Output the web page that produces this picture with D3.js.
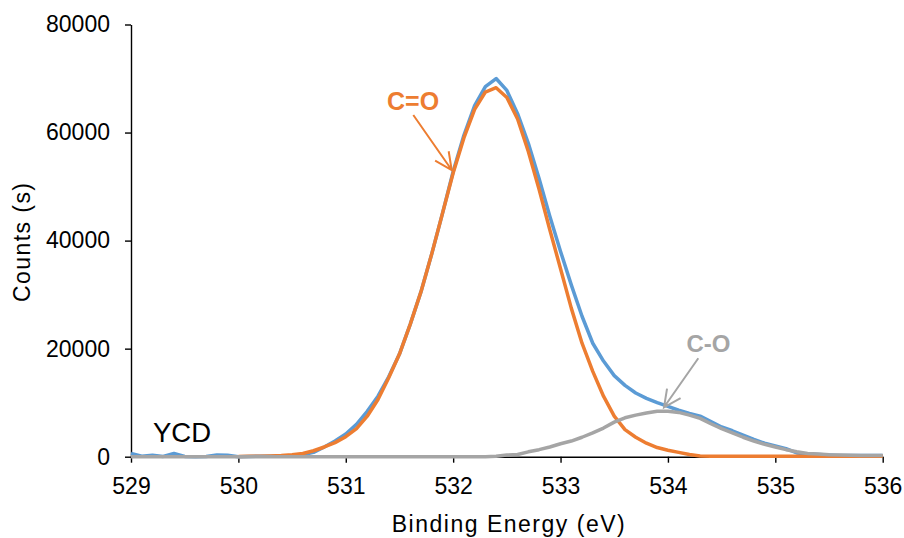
<!DOCTYPE html>
<html>
<head>
<meta charset="utf-8">
<script src="https://cdn.jsdelivr.net/npm/d3@7"></script>
<style>
  html, body { margin: 0; padding: 0; background: #fff; }
  svg { display: block; font-family: "Liberation Sans", Arial, sans-serif; }
</style>
</head>
<body>
<svg id="chart" width="904" height="538"></svg>
<script>
// ---- data ----
const energy = [
  529.0,529.1,529.2,529.3,529.4,529.5,529.6,529.7,529.8,529.9,
  530.0,530.1,530.2,530.3,530.4,530.5,530.6,530.7,530.8,530.9,
  531.0,531.1,531.2,531.3,531.4,531.5,531.6,531.7,531.8,531.9,
  532.0,532.1,532.2,532.3,532.4,532.5,532.6,532.7,532.8,532.9,
  533.0,533.1,533.2,533.3,533.4,533.5,533.6,533.7,533.8,533.9,
  534.0,534.1,534.2,534.3,534.4,534.5,534.6,534.7,534.8,534.9,
  535.0,535.1,535.2,535.3,535.4,535.5,535.6,535.7,535.8,535.9,
  536.0
];
const totalCounts = [
  600,100,250,50,600,50,0,50,300,250,
  0,50,100,100,150,200,350,800,1800,2900,
  4200,6000,8400,11200,14800,19000,24500,30500,37500,45000,
  52800,59500,65000,68500,70000,67800,63500,58000,51500,44500,
  38000,31800,26000,21000,17700,15000,13200,11800,10800,10000,
  9300,8600,8000,7500,6500,5500,4800,4000,3200,2500,
  2000,1500,700,500,400,300,200,200,200,200,
  200
];
const coDoubleCounts = [
  null,null,null,null,null,null,null,null,null,null,
  50,80,100,150,200,350,600,1100,1800,2600,
  3700,5200,7500,10600,14600,19000,24500,30500,37500,45000,
  52500,59000,64300,67500,68300,66500,62500,56500,49500,42000,
  34800,27500,21000,15800,11200,7500,5000,3600,2500,1700,
  1200,800,400,150,100,100,100,100,100,100,
  100,100,100,100,100,100,100,100,100,100,
  100
];
const coSingleCounts = [
  0,0,0,0,0,0,0,0,0,0,
  0,0,0,0,0,0,0,0,0,0,
  0,0,0,0,0,0,0,0,0,0,
  0,0,0,0,100,300,400,900,1300,1800,
  2400,2900,3600,4400,5300,6400,7200,7700,8100,8400,
  8400,8200,7700,7100,6100,5200,4400,3600,2900,2300,
  1800,1300,900,600,500,350,300,250,200,200,
  200
];
const xTicks = [529,530,531,532,533,534,535,536];
const yTicks = [0,20000,40000,60000,80000];
const seriesNames = ["Total","C=O","C-O"];
const seriesColors = ["#5B9BD5","#ED7D31","#A5A5A5"];

// ---- chart ----
const svg = d3.select("#chart");
const x = d3.scaleLinear().domain([529,536]).range([131,882.7]);
const y = d3.scaleLinear().domain([0,80000]).range([456.7,24.5]);

const yAxis = svg.append("g")
  .attr("transform","translate(131,0)")
  .call(d3.axisLeft(y).tickValues(yTicks).tickSize(6).tickSizeOuter(0).tickPadding(15).tickFormat(d3.format("d")));
const xAxis = svg.append("g")
  .attr("transform","translate(0,456.7)")
  .call(d3.axisBottom(x).tickValues(xTicks).tickSize(6).tickSizeOuter(0).tickPadding(15).tickFormat(d3.format("d")));
[yAxis, xAxis].forEach(g => {
  g.selectAll("path,line").attr("stroke","#000").attr("stroke-width",1.4);
  g.selectAll("text").attr("fill","#000").style("font-size","23px").style("font-family","'Liberation Sans', Arial, sans-serif");
});

const allSeries = [totalCounts, coDoubleCounts, coSingleCounts];
allSeries.forEach((vals, i) => {
  const pts = energy.map((e, k) => [e, vals[k]]);
  const line = d3.line()
    .defined(d => d[1] !== null)
    .x(d => x(d[0]))
    .y(d => y(d[1]));
  svg.append("path")
    .datum(pts)
    .attr("fill","none")
    .attr("stroke",seriesColors[i])
    .attr("stroke-width",3.5)
    .attr("stroke-linejoin","round")
    .attr("d",line)
    .attr("class","series-" + seriesNames[i]);
});

// annotations
function arrow(x0,y0,x1,y1,color){
  const ang = Math.atan2(y1-y0, x1-x0);
  const len = 19, spread = 0.45;
  const a1 = [x1 - len*Math.cos(ang-spread), y1 - len*Math.sin(ang-spread)];
  const a2 = [x1 - len*Math.cos(ang+spread), y1 - len*Math.sin(ang+spread)];
  svg.append("path")
    .attr("d",`M${x0},${y0}L${x1},${y1}M${a1[0]},${a1[1]}L${x1},${y1}L${a2[0]},${a2[1]}`)
    .attr("fill","none").attr("stroke",color).attr("stroke-width",2);
}
arrow(413.3,115,451.7,170,"#ED7D31");
arrow(698.3,358.3,664,407.3,"#A5A5A5");

svg.append("text").attr("x",387).attr("y",110)
  .attr("fill","#ED7D31").attr("font-weight","bold").style("font-size","25px").text("C=O");
svg.append("text").attr("x",686.5).attr("y",351.7)
  .attr("fill","#A5A5A5").attr("font-weight","bold").style("font-size","24px").text("C-O");
svg.append("text").attr("x",153).attr("y",441.7)
  .attr("fill","#000").style("font-size","27.5px").text("YCD");

svg.append("text").attr("x",391.7).attr("y",531.7)
  .attr("fill","#000").style("font-size","23px")
  .attr("textLength",233).attr("lengthAdjust","spacing")
  .text("Binding Energy (eV)");
svg.append("text").attr("transform","translate(30,302) rotate(-90)")
  .attr("fill","#000").style("font-size","23px")
  .attr("textLength",119).attr("lengthAdjust","spacing")
  .text("Counts (s)");
</script>
</body>
</html>
